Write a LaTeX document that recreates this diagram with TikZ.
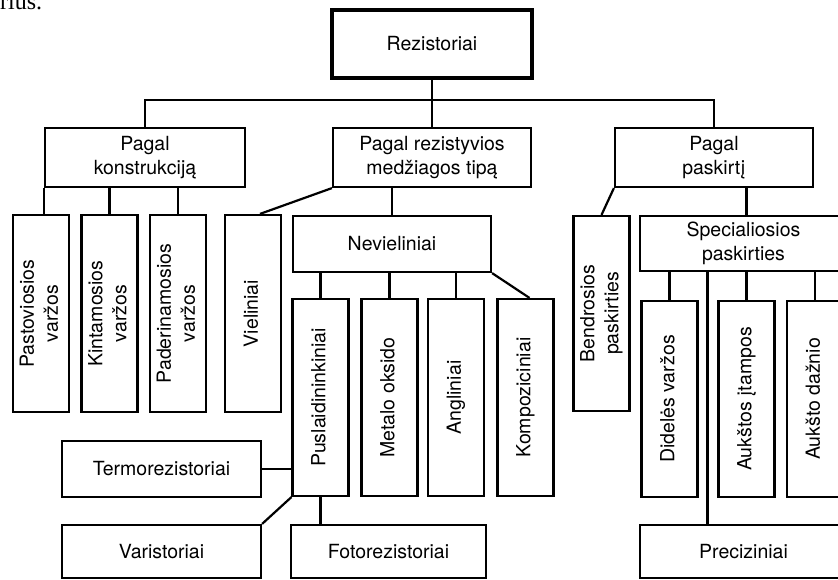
\documentclass[tikz,border=0pt]{standalone}
\usepackage{graphicx}
\usepackage{fontspec}
\setmainfont{TeX Gyre Heros}
\newfontfamily\serif{Liberation Serif}
\usetikzlibrary{positioning}

\newcommand{\vtxt}[1]{\rotatebox{90}{\begin{tabular}{@{}c@{}}#1\end{tabular}}}

\begin{document}
\begin{tikzpicture}[x=1pt,y=-1pt,
    box node/.style={draw, line width=2.2pt, align=center, inner sep=1pt,
      font=\fontsize{19.5}{24}\selectfont},
    vbox node/.style={box node, minimum width=56pt, minimum height=197pt},
    link/.style={line width=2.2pt},
    ]
  \useasboundingbox (0,0) rectangle (838,579);

  \node[font=\serif\fontsize{24}{24}\selectfont, anchor=base west, inner sep=0pt] (cut) at (0,9) {rius.};

  \node[box node, line width=4pt, minimum width=200pt, minimum height=68pt] (rez) at (432,44) {Rezistoriai};

  \node[box node, minimum width=200pt, minimum height=59pt] (kon) at (145,157.5) {Pagal\\konstrukciją};
  \node[box node, minimum width=198pt, minimum height=59pt] (med) at (432,157.5) {Pagal rezistyvios\\medžiagos tipą};
  \node[box node, minimum width=198pt, minimum height=59pt] (pas) at (714,157.5) {Pagal\\paskirtį};

  \node[vbox node] (pastov) at (41,313.5) {\vtxt{Pastoviosios\\varžos}};
  \node[vbox node] (kint) at (109.5,313.5) {\vtxt{Kintamosios\\varžos}};
  \node[vbox node] (pader) at (178,313.5) {\vtxt{Paderinamosios\\varžos}};
  \node[vbox node] (viel) at (253,313.5) {\vtxt{Vieliniai}};

  \node[box node, minimum width=198pt, minimum height=56pt] (nev) at (392,244) {Nevieliniai};
  \node[vbox node] (pusl) at (320.5,397.5) {\vtxt{Puslaidininkiniai}};
  \node[vbox node] (metal) at (389.5,397.5) {\vtxt{Metalo oksido}};
  \node[vbox node] (angl) at (456,397.5) {\vtxt{Angliniai}};
  \node[vbox node] (komp) at (525.5,397.5) {\vtxt{Kompoziciniai}};

  \node[box node, minimum width=199pt, minimum height=56pt] (termo) at (161.5,469) {Termorezistoriai};
  \node[box node, minimum width=199pt, minimum height=53pt] (vari) at (161.5,551.5) {Varistoriai};
  \node[box node, minimum width=195pt, minimum height=53pt] (foto) at (388.5,551.5) {Fotorezistoriai};

  \node[vbox node, minimum height=195pt] (bendr) at (601.5,313.5) {\vtxt{Bendrosios\\paskirties}};
  \node[box node, minimum width=207pt, minimum height=55pt] (spec) at (743.5,243.5) {Specialiosios\\paskirties};
  \node[vbox node, minimum height=196pt] (dide) at (669.5,399) {\vtxt{Didelės varžos}};
  \node[vbox node, minimum height=196pt] (aukit) at (746.5,399) {\vtxt{Aukštos įtampos}};
  \node[vbox node, minimum height=196pt] (aukd) at (815,399) {\vtxt{Aukšto dažnio}};
  \node[box node, minimum width=207pt, minimum height=53pt] (prec) at (743.5,551.5) {Preciziniai};

  \coordinate (bus) at (432,100);
  \path (prec.north) ++(-36,0) coordinate (precin);

  \draw[link] (rez) -- (med);
  \draw[link] (kon.north) |- (bus) -| (pas.north);

  \draw[link] (kon.south west) -- (kon.south west |- pastov.north);
  \draw[link] (kint.north) -- (kint.north |- kon.south);
  \draw[link] (pader.north) -- (pader.north |- kon.south);
  \draw[link] (med.south west) -- ([xshift=7pt]viel.north);
  \draw[link] (nev.north) -- (nev.north |- med.south);

  \draw[link] (pusl.north) -- (pusl.north |- nev.south);
  \draw[link] (metal.north) -- (metal.north |- nev.south);
  \draw[link] (angl.north) -- (angl.north |- nev.south);
  \draw[link] (nev.south east) -- ([xshift=4pt]komp.north);

  \draw[link] (termo.east) -- (termo.east -| pusl.west);
  \draw[link] (pusl.south west) -- (vari.north east);
  \draw[link] (pusl.south) -- (pusl.south |- foto.north);

  \draw[link] (pas.south west) -- (bendr.north);
  \draw[link] (aukit.north |- pas.south) -- (aukit.north |- spec.north);
  \draw[link] (dide.north) -- (dide.north |- spec.south);
  \draw[link] (aukit.north) -- (aukit.north |- spec.south);
  \draw[link] (aukd.north) -- (aukd.north |- spec.south);
  \draw[link] (precin) -- (precin |- spec.south);
\end{tikzpicture}
\end{document}
